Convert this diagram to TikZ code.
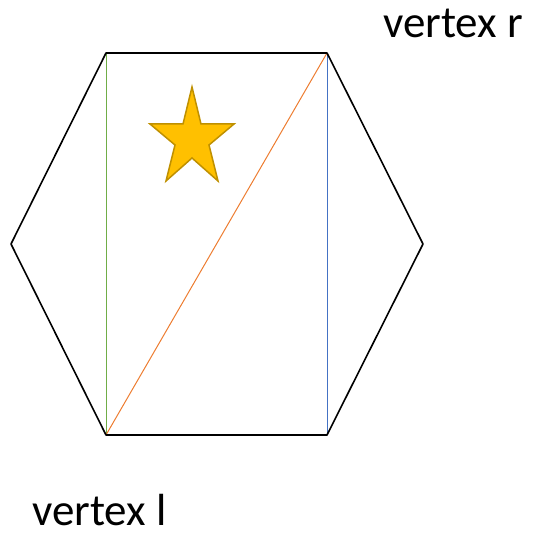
\documentclass[tikz,border=0pt]{standalone}
\usepackage{fontspec}
\setmainfont{Carlito}
\definecolor{hexgreen}{HTML}{70AD47}
\definecolor{hexblue}{HTML}{4472C4}
\definecolor{hexorange}{HTML}{ED7D31}
\definecolor{starfill}{HTML}{FFC000}
\definecolor{stardraw}{HTML}{BF9000}
\tikzset{
  hexedge/.style={draw=black, line width=1.6pt, line join=round},
  thinline/.style={line width=1pt},
  lbl/.style={anchor=base west, inner sep=0pt, font=\fontsize{45}{50}\selectfont}
}
\begin{document}
\begin{tikzpicture}[x=1pt,y=-1pt]
\useasboundingbox (0,0) rectangle (536,537);
\coordinate (tl) at (106,53);
\coordinate (tr) at (327,53);
\coordinate (r) at (423,244);
\coordinate (br) at (327,435);
\coordinate (bl) at (106,435);
\coordinate (l) at (11,244);
\draw[thinline, hexgreen] (tl) -- (bl);
\draw[thinline, hexblue] (tr) -- (br);
\draw[thinline, hexorange] (bl) -- (tr);
\draw[hexedge] (tl) -- (tr) -- (r) -- (br) -- (bl) -- (l) -- cycle;
\draw[fill=starfill, draw=stardraw, line width=1.5pt, line join=miter]
  (192,87) -- (201,124) -- (234,124) -- (209,145) -- (218,181) -- (192,158)
  -- (166,181) -- (175,145) -- (150,124) -- (183,124) -- cycle;
\node[lbl] (vr) at (383,38) {vertex r};
\node[lbl] (vl) at (32,525) {vertex l};
\end{tikzpicture}
\end{document}
